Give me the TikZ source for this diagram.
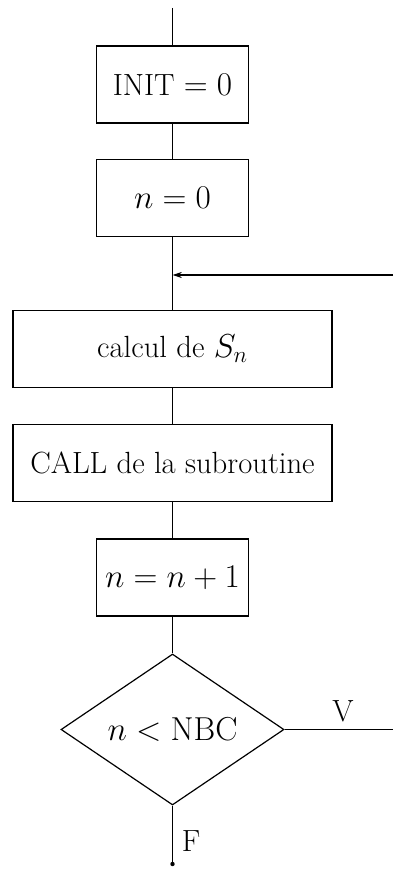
\documentclass[tikz,border=0pt]{standalone}
\usetikzlibrary{shapes.geometric,arrows.meta}

\tikzset{every picture/.style={line width=0.9pt}}
\tikzset{
  bloc/.style={draw, rectangle, inner sep=0pt, font=\fontsize{23}{27}\selectfont},
  petitbloc/.style={bloc, minimum width=114pt, minimum height=57.75pt},
  grandbloc/.style={bloc, minimum width=239.25pt, minimum height=57.75pt},
  test/.style={draw, diamond, inner sep=0pt, aspect=1.48, minimum width=167.25pt, minimum height=113.25pt, font=\fontsize{23}{27}\selectfont},
  lettre/.style={font=\fontsize{23}{27}\selectfont}
}

\begin{document}
\begin{tikzpicture}[x=0.75pt,y=0.75pt,yscale=-1,xscale=1]
		\useasboundingbox (0,0) rectangle (393,877);

		% Boites
		\node[petitbloc] (init) at (172.5,84.5) {INIT $=0$};
		\node[petitbloc] (nzero) at (172.5,198) {$n=0$};
		\node[grandbloc] (calc) at (172.5,349) {calcul de $S_n$};
		\node[grandbloc] (call) at (172.5,463) {CALL de la subroutine};
		\node[petitbloc] (incr) at (172.5,577.5) {$n=n+1$};
		%Shape: Diamond
		\node[test] (nbc) at (172.5,729.5) {$n<\mathrm{NBC}$};

		% Points libres
		\coordinate (debut) at (172.5,8);
		\coordinate (retour) at (393,275);
		\coordinate (entree) at (172.5,275);
		\coordinate (sortieV) at (393,729.5);
		\coordinate (fin) at (172.5,864);

		%Straight Lines
		\draw (debut) -- (init.north);
		\draw (init.south) -- (nzero.north);
		\draw (nzero.south) -- (calc.north);
		\draw (calc.south) -- (call.north);
		\draw (call.south) -- (incr.north);
		\draw (incr.south) -- (nbc.north);
		\draw [-{Stealth[length=7pt,width=4.5pt]}] (retour) -- (entree);
		\draw (nbc.east) -- (sortieV);
		\draw (nbc.south) -- (fin);
		\fill (fin) circle (2.2);

		% Text Node
		\node[lettre] (vrai) at (343,711) {V};
		% Text Node
		\node[lettre] (faux) at (191,841) {F};

\end{tikzpicture}
\end{document}
